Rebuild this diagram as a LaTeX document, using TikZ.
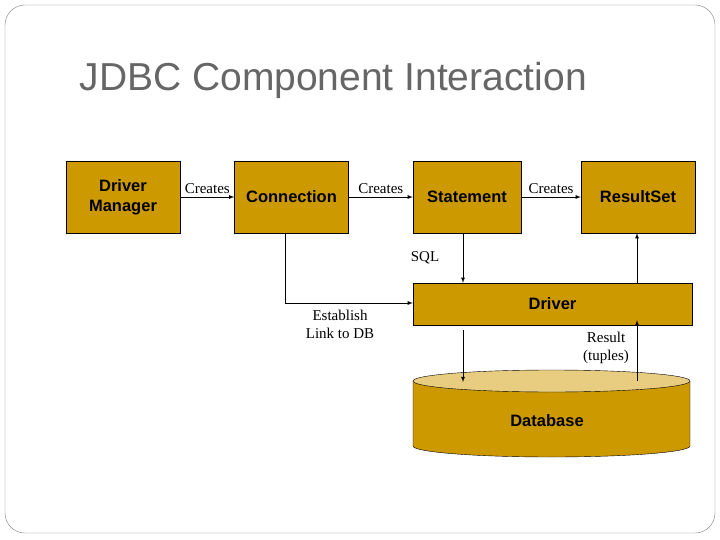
\documentclass[tikz,border=0pt]{standalone}
\usepackage{fontspec}
\setmainfont{Liberation Serif}
\newfontfamily\arialfont{Liberation Sans}
\definecolor{gold}{HTML}{CC9900}
\definecolor{lightgold}{HTML}{E8CC80}
\begin{document}
\begin{tikzpicture}[x=1pt,y=-1pt,
    box/.style={draw,fill=gold,minimum width=114pt,minimum height=72pt,inner sep=2pt,align=center,font=\arialfont\bfseries\fontsize{16.5}{20}\selectfont},
    lbl/.style={font=\fontsize{15}{18}\selectfont,align=center},
    arr/.style={->,>=latex,thick}]
    \useasboundingbox (0,0) rectangle (720,540);
    \draw[gray,rounded corners=20pt] (5,5) rectangle (715,533);
    \node[anchor=west,text=black!60,font=\arialfont\fontsize{39}{44}\selectfont] (title) at (76,80) {JDBC Component Interaction};

    \node[box] (dm) at (123,197) {Driver\\Manager};
    \node[box] (conn) at (291.5,197) {Connection};
    \node[box,minimum width=108pt] (stmt) at (467,197) {Statement};
    \node[box] (rs) at (638,197) {ResultSet};
    \node[box,minimum width=279pt,minimum height=42pt] (drv) at (552.5,304) {Driver};

    % database cylinder
    \fill[gold,draw=black] (413,381) -- (413,446) arc[start angle=180,end angle=0,x radius=138.5,y radius=11] -- (690,381) -- cycle;
    \draw[fill=lightgold] (551.5,381) ellipse[x radius=138.5,y radius=11];
    \node[font=\arialfont\bfseries\fontsize{16.5}{20}\selectfont] (db) at (547,421) {Database};
    \coordinate (dbin) at (463,382);
    \coordinate (dbout) at (637,381);

    \draw[arr] (dm) -- node[lbl,above] {Creates} (conn);
    \draw[arr] (conn) -- node[lbl,above] {Creates} (stmt);
    \draw[arr] (stmt) -- node[lbl,above] {Creates} (rs);

    \draw[arr] (conn.south -| 285,0) |- (drv.west |- 0,303);
    \draw[arr] (stmt.south -| 463,0) -- (drv.north -| 463,0);
    \draw[arr] (drv.south -| 463,0) ++(0,5) -- (dbin);
    \draw[arr] (dbout) -- ([yshift=5pt]drv.south -| 637,0);
    \draw[arr] (drv.north -| 637,0) -- (rs.south -| 637,0);

    \node[lbl] (sql) at (425,258) {SQL};
    \node[lbl] (link) at (340,324) {Establish\\Link to DB};
    \node[lbl] (res) at (606,348) {Result\\(tuples)};
\end{tikzpicture}
\end{document}
